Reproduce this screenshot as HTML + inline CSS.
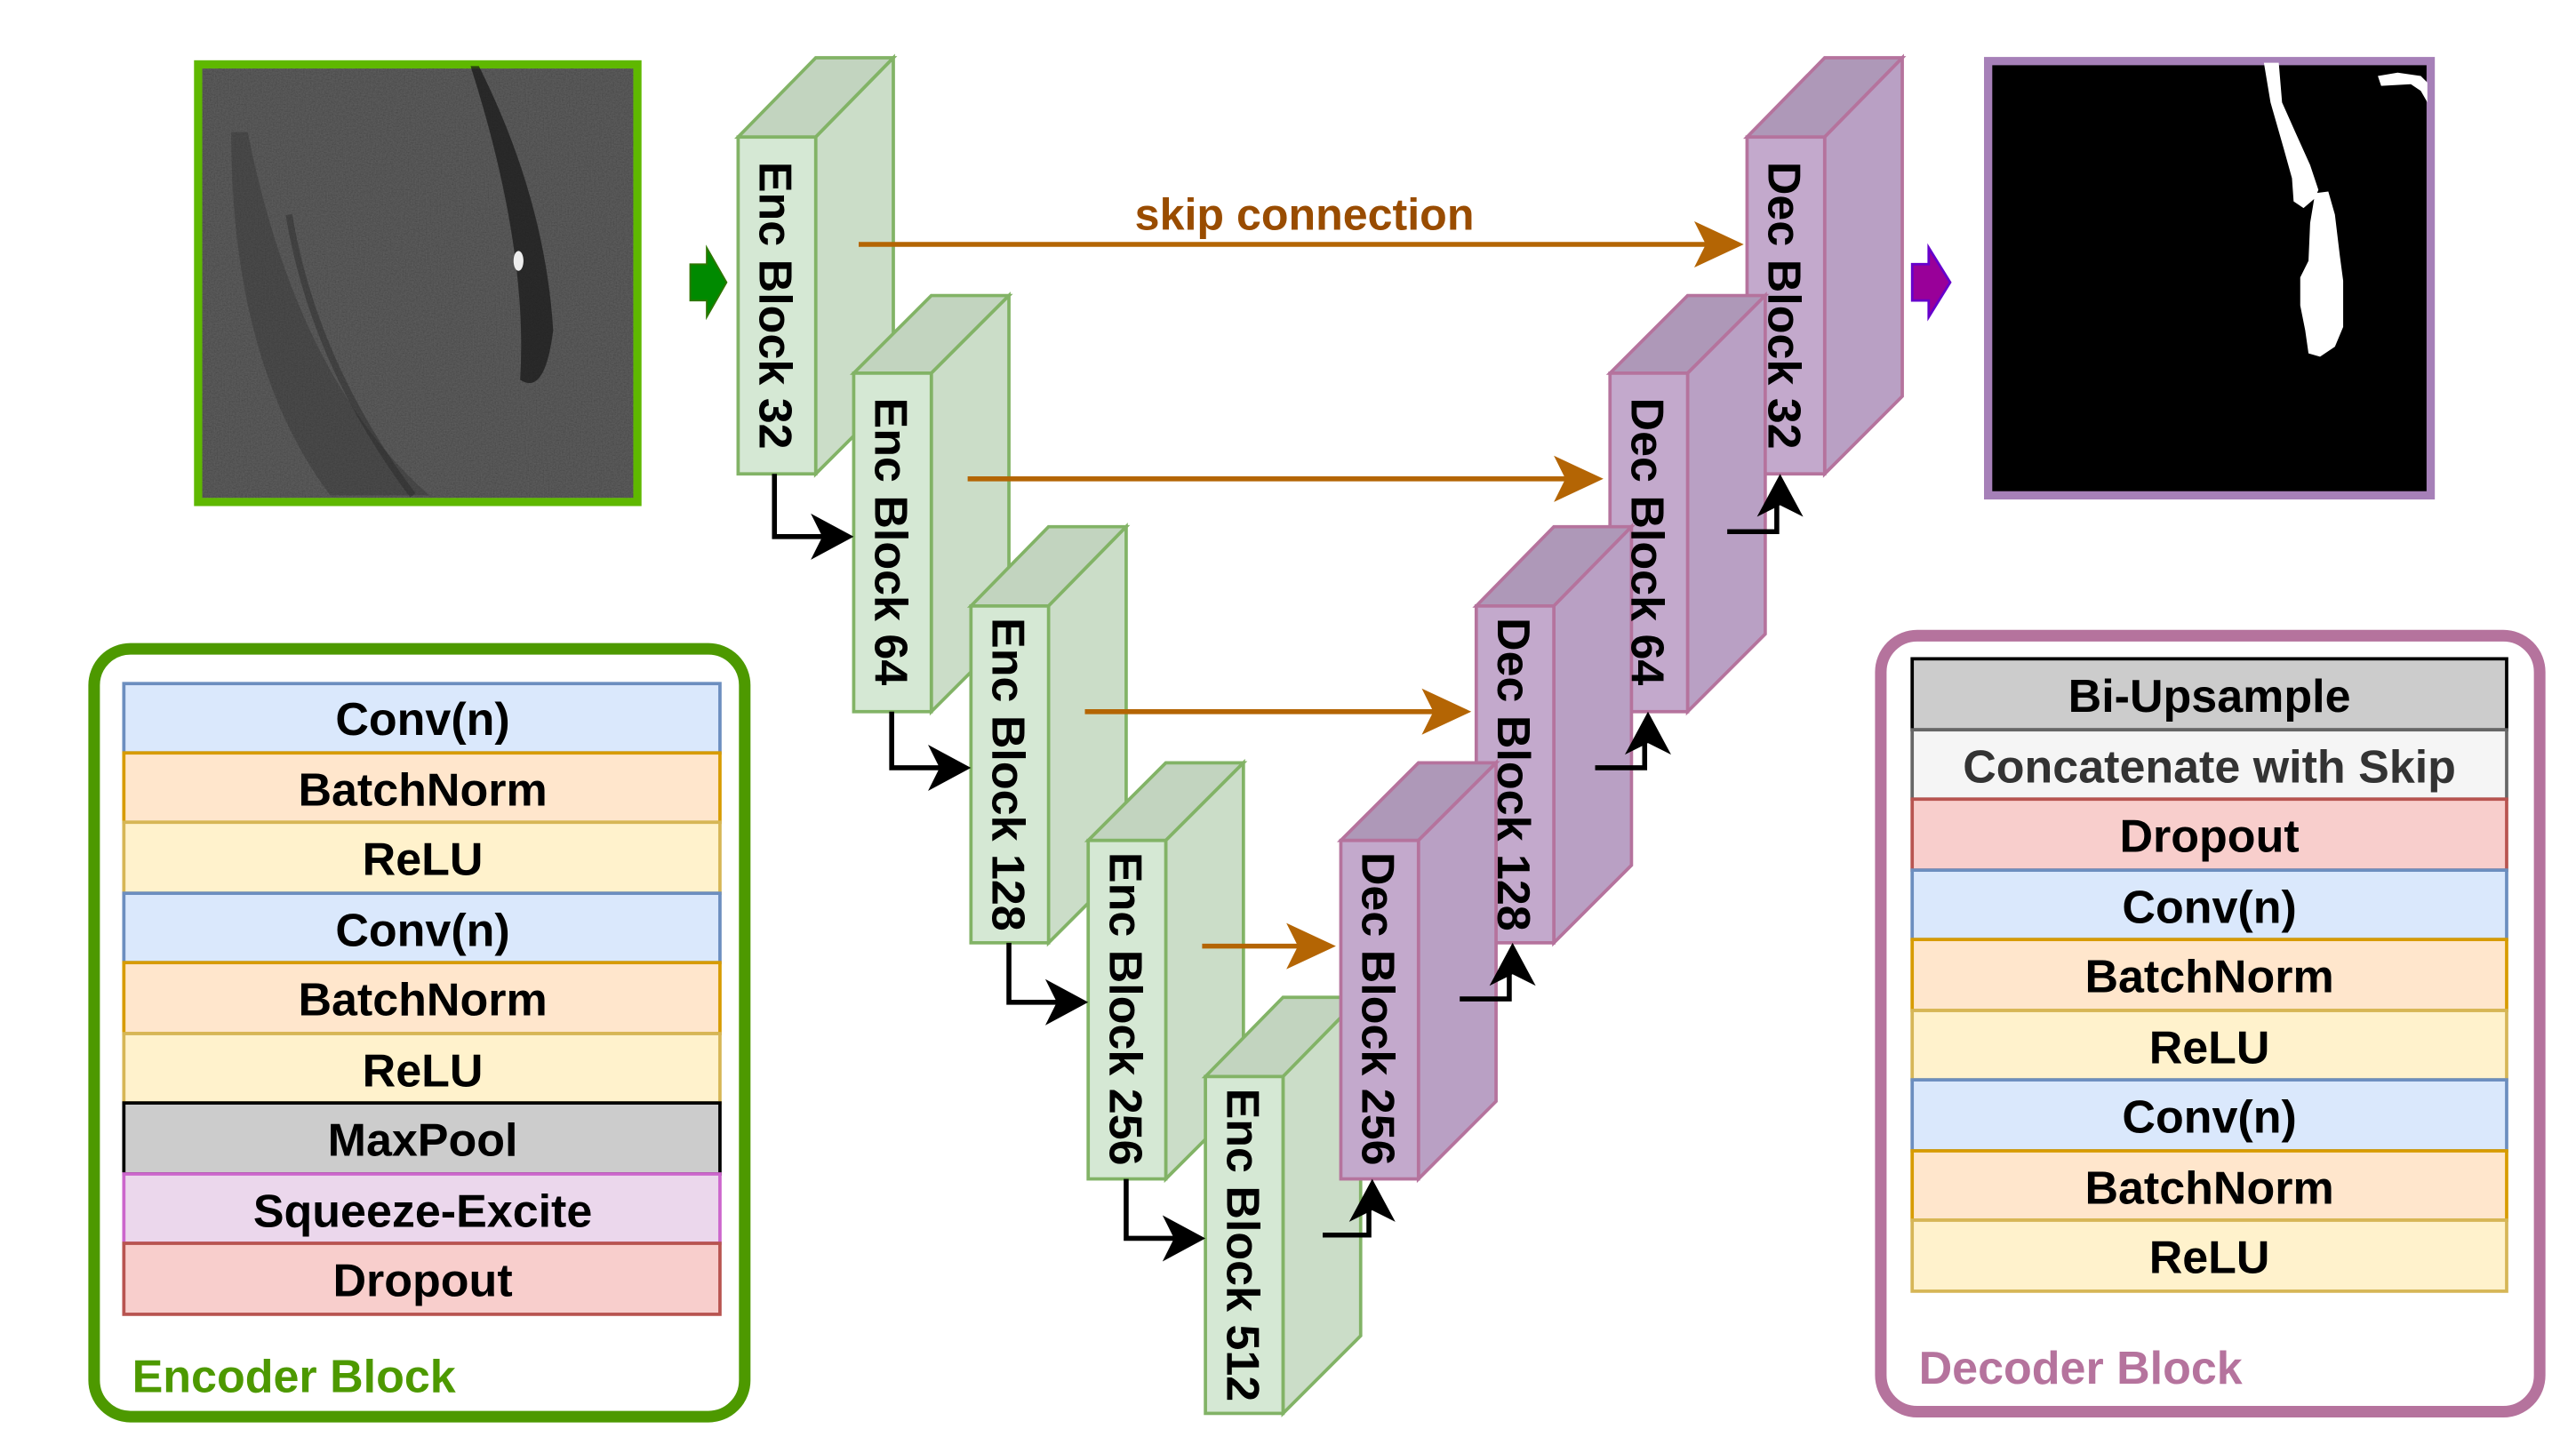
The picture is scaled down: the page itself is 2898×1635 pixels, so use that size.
<!DOCTYPE html>
<html><head><meta charset="utf-8"><style>
html,body{margin:0;padding:0;background:#fff;}
svg{display:block;}
text{font-family:"Liberation Sans",sans-serif;font-weight:bold;}
</style></head><body>
<svg width="2898" height="1635" viewBox="0 0 1560 880" preserveAspectRatio="none" xmlns="http://www.w3.org/2000/svg">
<defs>
<filter id="noise" x="0" y="0" width="100%" height="100%">
<feTurbulence type="fractalNoise" baseFrequency="1.2" numOctaves="2" seed="3" result="t"/>
<feColorMatrix type="saturate" values="0" in="t" result="g"/>
<feComponentTransfer in="g" result="g2"><feFuncA type="linear" slope="0" intercept="1"/></feComponentTransfer>
</filter>
</defs>

<!-- input image -->
<rect x="120" y="39" width="266" height="265" fill="#383838" stroke="#5fb800" stroke-width="5"/>
<rect x="122.5" y="41.5" width="261" height="260" fill="#555" filter="url(#noise)" opacity="0.22"/>
<g>
<path d="M150,80 Q180,230 260,300 L200,300 Q140,220 140,80 Z" fill="#2c2c2c" opacity="0.35"/>
<path d="M290,40 Q330,120 335,200 Q330,240 315,230 Q320,150 285,40 Z" fill="#151515" opacity="0.7"/>
<path d="M175,130 Q190,220 250,300" stroke="#222" stroke-width="4" fill="none" opacity="0.4"/>
<ellipse cx="314" cy="158" rx="3" ry="6" fill="#eee"/>
</g>

<!-- green arrow -->
<path d="M418,160 L428,160 L428,150 L440,171 L428,192 L428,182 L418,182 Z" fill="#008a00" stroke="#2d7600" stroke-width="1"/>

<!-- encoder blocks -->
<g stroke="#82b366" stroke-width="2">
<polygon points="447,83 494,35 541,35 494,83" fill="#c2d4bf"/>
<polygon points="494,83 541,35 541,240 494,287" fill="#cbddc8"/>
<rect x="447" y="83" width="47" height="204" fill="#d5e8d4"/>
<polygon points="517,226 564,179 611,179 564,226" fill="#c2d4bf"/>
<polygon points="564,226 611,179 611,384 564,431" fill="#cbddc8"/>
<rect x="517" y="226" width="47" height="205" fill="#d5e8d4"/>
<polygon points="588,367 635,319 682,319 635,367" fill="#c2d4bf"/>
<polygon points="635,367 682,319 682,524 635,571" fill="#cbddc8"/>
<rect x="588" y="367" width="47" height="204" fill="#d5e8d4"/>
<polygon points="659,509 706,462 753,462 706,509" fill="#c2d4bf"/>
<polygon points="706,509 753,462 753,667 706,714" fill="#cbddc8"/>
<rect x="659" y="509" width="47" height="205" fill="#d5e8d4"/>
<polygon points="730,652 777,604 824,604 777,652" fill="#c2d4bf"/>
<polygon points="777,652 824,604 824,809 777,856" fill="#cbddc8"/>
<rect x="730" y="652" width="47" height="204" fill="#d5e8d4"/>
</g>

<!-- decoder blocks -->
<g stroke="#b5739d" stroke-width="2">
<polygon points="1058,83 1105,35 1152,35 1105,83" fill="#ae98b8"/>
<polygon points="1105,83 1152,35 1152,240 1105,287" fill="#b9a0c4"/>
<rect x="1058" y="83" width="47" height="204" fill="#c3a9cc"/>
<polygon points="975,226 1022,179 1069,179 1022,226" fill="#ae98b8"/>
<polygon points="1022,226 1069,179 1069,384 1022,431" fill="#b9a0c4"/>
<rect x="975" y="226" width="47" height="205" fill="#c3a9cc"/>
<polygon points="894,367 941,319 988,319 941,367" fill="#ae98b8"/>
<polygon points="941,367 988,319 988,524 941,571" fill="#b9a0c4"/>
<rect x="894" y="367" width="47" height="204" fill="#c3a9cc"/>
<polygon points="812,509 859,462 906,462 859,509" fill="#ae98b8"/>
<polygon points="859,509 906,462 906,667 859,714" fill="#b9a0c4"/>
<rect x="812" y="509" width="47" height="205" fill="#c3a9cc"/>
</g>

<!-- block labels -->
<g font-size="28" fill="#000" text-anchor="middle">
<text transform="translate(460,185) rotate(90)">Enc Block 32</text>
<text transform="translate(530,328) rotate(90)">Enc Block 64</text>
<text transform="translate(601,469) rotate(90)">Enc Block 128</text>
<text transform="translate(672,611) rotate(90)">Enc Block 256</text>
<text transform="translate(743,754) rotate(90)">Enc Block 512</text>
<text transform="translate(825,611) rotate(90)">Dec Block 256</text>
<text transform="translate(907,469) rotate(90)">Dec Block 128</text>
<text transform="translate(988,328) rotate(90)">Dec Block 64</text>
<text transform="translate(1071,185) rotate(90)">Dec Block 32</text>
</g>

<!-- skip connections -->
<g stroke="#b46504" stroke-width="3" fill="none">
<line x1="520" y1="148" x2="1040" y2="148"/>
<line x1="586" y1="290" x2="955" y2="290"/>
<line x1="657" y1="431" x2="875" y2="431"/>
<line x1="728" y1="573" x2="793" y2="573"/>
</g>
<g fill="#b46504">
<path d="M1056,148 L1026,134 L1033,148 L1026,162 Z"/>
<path d="M971,290 L941,276 L948,290 L941,304 Z"/>
<path d="M891,431 L861,417 L868,431 L861,445 Z"/>
<path d="M809,573 L779,559 L786,573 L779,587 Z"/>
</g>
<text x="790" y="139" font-size="27" fill="#994c00" text-anchor="middle">skip connection</text>

<!-- connector arrows -->
<g stroke="#000" stroke-width="3" fill="none">
<polyline points="469,287 469,325 503,325"/>
<polyline points="540,431 540,465 574,465"/>
<polyline points="611,571 611,607 645,607"/>
<polyline points="682,714 682,750 716,750"/>
<polyline points="801,748 829,748 829,725"/>
<polyline points="884,605 914,605 914,583"/>
<polyline points="966,465 996,465 996,443"/>
<polyline points="1046,322 1076,322 1076,300"/>
</g>
<g fill="#000">
<path d="M517,325 L491,311 L498,325 L491,339 Z"/>
<path d="M588,465 L562,451 L569,465 L562,479 Z"/>
<path d="M659,607 L633,593 L640,607 L633,621 Z"/>
<path d="M730,750 L704,736 L711,750 L704,764 Z"/>
<path d="M831,714 L817,740 L831,733 L845,740 Z"/>
<path d="M916,571 L902,597 L916,590 L930,597 Z"/>
<path d="M998,431 L984,457 L998,450 L1012,457 Z"/>
<path d="M1078,287 L1064,313 L1078,306 L1092,313 Z"/>
</g>

<!-- purple arrow -->
<path d="M1158,160 L1168,160 L1168,150 L1181,171 L1168,192 L1168,182 L1158,182 Z" fill="#990099" stroke="#6600cc" stroke-width="1.5"/>

<!-- output image -->
<rect x="1204" y="37" width="268" height="263" fill="#000" stroke="#a680b8" stroke-width="5"/>
<path d="M1371,38 L1380,38 L1382,62 L1390,80 L1399,100 L1404,115 L1402,120 L1395,126 L1389,122 L1388,108 L1383,90 L1375,62 Z" fill="#fff"/>
<path d="M1402,117 L1410,116 L1414,130 L1417,155 L1419,170 L1419,198 L1414,210 L1405,216 L1398,214 L1396,200 L1393,185 L1393,168 L1398,158 L1399,135 Z" fill="#fff"/>
<path d="M1440,46 L1452,44 L1466,46 L1470,50 L1470,62 L1466,55 L1460,51 L1442,52 Z" fill="#fff"/>

<!-- encoder panel -->
<rect x="57" y="393" width="394" height="465" rx="22" fill="#fff" stroke="#4d9900" stroke-width="7"/>
<g stroke-width="2">
<rect x="75" y="414" width="361" height="42" fill="#dae8fc" stroke="#6c8ebf"/>
<rect x="75" y="456" width="361" height="42" fill="#ffe6cc" stroke="#d79b00"/>
<rect x="75" y="498" width="361" height="43" fill="#fff2cc" stroke="#d6b656"/>
<rect x="75" y="541" width="361" height="42" fill="#dae8fc" stroke="#6c8ebf"/>
<rect x="75" y="583" width="361" height="43" fill="#ffe6cc" stroke="#d79b00"/>
<rect x="75" y="626" width="361" height="42" fill="#fff2cc" stroke="#d6b656"/>
<rect x="75" y="668" width="361" height="43" fill="#cccccc" stroke="#000"/>
<rect x="75" y="711" width="361" height="42" fill="#ebd7ec" stroke="#cc66cc"/>
<rect x="75" y="753" width="361" height="43" fill="#f8cecc" stroke="#b85450"/>
</g>
<g font-size="28" fill="#000" text-anchor="middle">
<text x="256" y="445">Conv(n)</text>
<text x="256" y="488">BatchNorm</text>
<text x="256" y="530">ReLU</text>
<text x="256" y="573">Conv(n)</text>
<text x="256" y="615">BatchNorm</text>
<text x="256" y="658">ReLU</text>
<text x="256" y="700">MaxPool</text>
<text x="256" y="743">Squeeze-Excite</text>
<text x="256" y="785">Dropout</text>
</g>
<text x="80" y="843" font-size="28" fill="#4d9900">Encoder Block</text>

<!-- decoder panel -->
<rect x="1139" y="385" width="399" height="470" rx="22" fill="#fff" stroke="#b5739d" stroke-width="7"/>
<g stroke-width="2">
<rect x="1158" y="399" width="360" height="43" fill="#cccccc" stroke="#000"/>
<rect x="1158" y="442" width="360" height="42" fill="#f5f5f5" stroke="#666"/>
<rect x="1158" y="484" width="360" height="43" fill="#f8cecc" stroke="#b85450"/>
<rect x="1158" y="527" width="360" height="42" fill="#dae8fc" stroke="#6c8ebf"/>
<rect x="1158" y="569" width="360" height="43" fill="#ffe6cc" stroke="#d79b00"/>
<rect x="1158" y="612" width="360" height="42" fill="#fff2cc" stroke="#d6b656"/>
<rect x="1158" y="654" width="360" height="43" fill="#dae8fc" stroke="#6c8ebf"/>
<rect x="1158" y="697" width="360" height="42" fill="#ffe6cc" stroke="#d79b00"/>
<rect x="1158" y="739" width="360" height="43" fill="#fff2cc" stroke="#d6b656"/>
</g>
<g font-size="28" fill="#000" text-anchor="middle">
<text x="1338" y="431">Bi-Upsample</text>
<text x="1338" y="474" fill="#333">Concatenate with Skip</text>
<text x="1338" y="516">Dropout</text>
<text x="1338" y="559">Conv(n)</text>
<text x="1338" y="601">BatchNorm</text>
<text x="1338" y="644">ReLU</text>
<text x="1338" y="686">Conv(n)</text>
<text x="1338" y="729">BatchNorm</text>
<text x="1338" y="771">ReLU</text>
</g>
<text x="1162" y="838" font-size="28" fill="#b5739d">Decoder Block</text>
</svg>
</body></html>
